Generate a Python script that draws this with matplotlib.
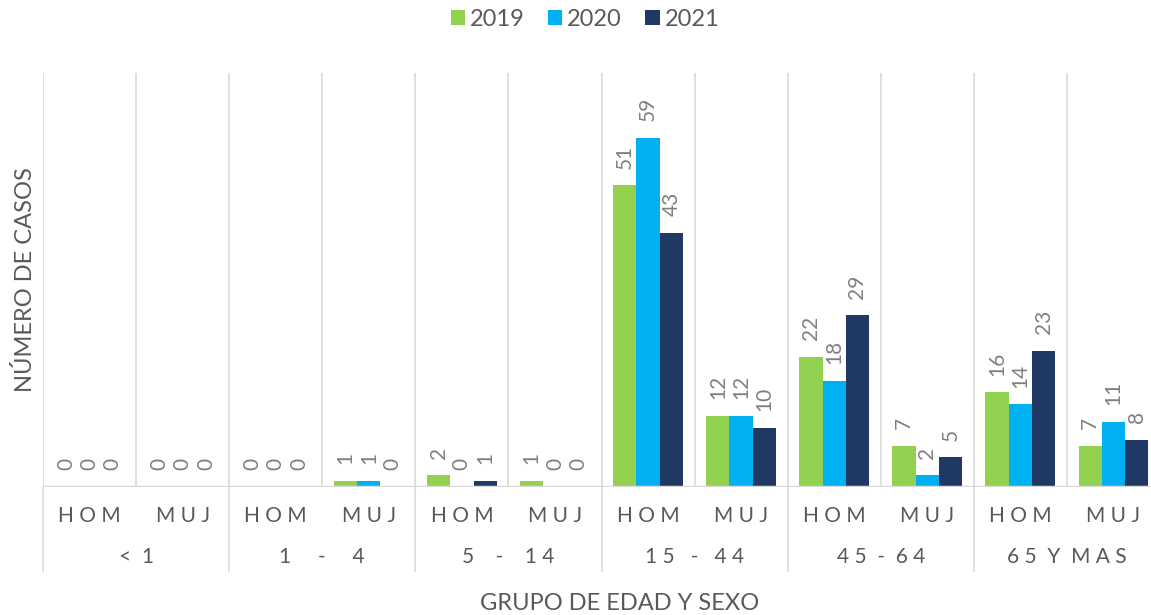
import matplotlib
matplotlib.use("Agg")
import matplotlib.pyplot as plt
import numpy as np

groups = ["<  1", "1     -     4", "5    -    1 4", "1 5   -   4 4", "4 5  -  6 4", "6 5  Y  M A S"]
sexes = ["H O M", "M U J"]
series = ["2019", "2020", "2021"]
v2019 = [0, 0, 0, 1, 2, 1, 51, 12, 22, 7, 16, 7]
v2020 = [0, 0, 0, 1, 0, 0, 59, 12, 18, 2, 14, 11]
v2021 = [0, 0, 0, 0, 1, 0, 43, 10, 29, 5, 23, 8]
colors = ["#92D050", "#00B0F0", "#203864"]

plt.rcParams['font.family'] = ['Lato', 'DejaVu Sans']
W, H = 1151, 615
fig = plt.figure(figsize=(W/100, H/100), dpi=100)
x0, x1, yb, yt = 43, 1160, 487, 73
ax = fig.add_axes([x0/W, 1-yb/H, (x1-x0)/W, (yb-yt)/H])

n = len(v2019)
x = np.arange(n) + 0.5
bw = 0.25
txtc = "#808080"
for i, (vals, c, lab) in enumerate(zip([v2019, v2020, v2021], colors, series)):
    pos = x + (i-1)*bw
    ax.bar(pos, vals, bw, color=c, label=lab, zorder=3)
    for p, v in zip(pos, vals):
        ax.annotate(str(v), (p, v), xytext=(0, 12), textcoords="offset points",
                    rotation=90, ha="center", va="bottom", fontsize=15, color=txtc)

ax.set_xlim(0, n)
ax.set_ylim(0, 70)
for k in range(n+1):
    ax.axvline(k, color="#D9D9D9", lw=1.2, zorder=1)
ax.axhline(0, color="#D9D9D9", lw=2.5, zorder=4)
for s in ax.spines.values():
    s.set_visible(False)
ax.set_xticks([])
ax.set_yticks([])

def fy(py):
    return 1 - py/H
for k in range(n):
    fig.text((x0 + (k+0.5)*(x1-x0)/n)/W, fy(516), sexes[k % 2], ha="center", va="center",
             fontsize=15, color="#595959")
for g in range(len(groups)):
    fig.text((x0 + (2*g+1)*(x1-x0)/n)/W, fy(557), groups[g], ha="center", va="center",
             fontsize=15, color="#595959")
for g in range(len(groups)+1):
    px = x0 + 2*g*(x1-x0)/n
    fig.add_artist(plt.Line2D([px/W, px/W], [fy(487), fy(571)], color="#D9D9D9", lw=1.2))

fig.text(620/W, fy(604), "GRUPO DE EDAD Y SEXO", ha="center", va="center", fontsize=17,
         color="#595959")
fig.text(25/W, fy(280), "NÚMERO DE CASOS", ha="center", va="center", rotation=90, fontsize=17,
         color="#595959")

leg = fig.legend(loc="center", bbox_to_anchor=(585/W, fy(19)), ncol=3, frameon=False,
                 fontsize=17, handlelength=0.6, handleheight=0.6, handletextpad=0.2,
                 columnspacing=1.0, labelcolor="#595959")

fig.savefig("out.png", dpi=100)
